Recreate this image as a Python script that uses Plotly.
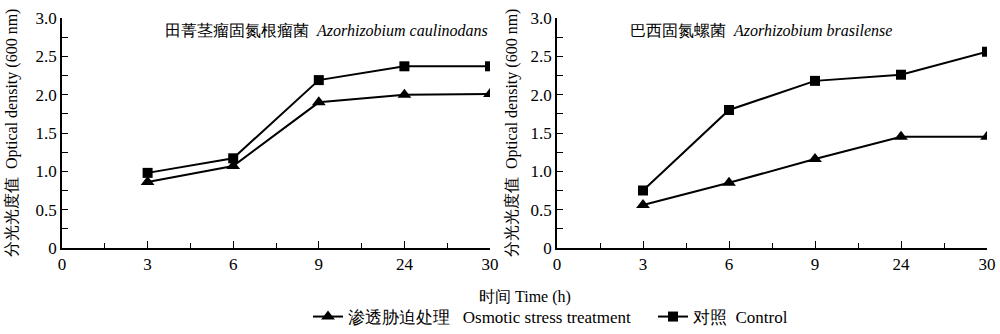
import plotly.graph_objects as go

# Sampling times (h), plotted at evenly spaced positions
time_labels = ["0", "3", "6", "9", "24", "30"]
sample_pos = [1, 2, 3, 4, 5]

# Optical density (600 nm) — Azorhizobium caulinodans
caul_stress = [0.86, 1.07, 1.90, 2.00, 2.01]
caul_control = [0.98, 1.17, 2.19, 2.37, 2.37]

# Optical density (600 nm) — Azorhizobium brasilense
bras_stress = [0.56, 0.85, 1.16, 1.45, 1.45]
bras_control = [0.75, 1.80, 2.18, 2.26, 2.56]

stress_name = "渗透胁迫处理\u2002 Osmotic stress treatment"
control_name = "对照\u2002Control"

FONT = "Times New Roman, Liberation Serif, serif"
W, H = 1000, 334

fig = go.Figure()

def add_pair(stress, control, xa, ya, show):
    fig.add_trace(go.Scatter(
        x=sample_pos, y=stress, xaxis=xa, yaxis=ya, mode="lines+markers",
        name=stress_name, showlegend=show, legendrank=1,
        line=dict(color="black", width=2),
        marker=dict(symbol="triangle-up", size=12, color="black")))
    fig.add_trace(go.Scatter(
        x=sample_pos, y=control, xaxis=xa, yaxis=ya, mode="lines+markers",
        name=control_name, showlegend=show, legendrank=2,
        line=dict(color="black", width=2),
        marker=dict(symbol="square", size=10, color="black")))

add_pair(caul_stress, caul_control, "x", "y", True)
add_pair(bras_stress, bras_control, "x2", "y2", False)

def px_x(p):
    return p / W

def px_y(p):
    return 1 - p / H

xaxis_common = dict(
    range=[0, 5], tickmode="array", tickvals=list(range(6)), ticktext=time_labels,
    ticks="inside", ticklen=7, tickwidth=1.2, tickcolor="black",
    minor=dict(tickmode="array", tickvals=[0.5, 1.5, 2.5, 3.5, 4.5],
               ticks="inside", ticklen=5, tickwidth=1.2, tickcolor="black"),
    showline=True, linecolor="black", linewidth=1.5, showgrid=False, zeroline=False,
    tickfont=dict(family=FONT, size=17, color="black"), fixedrange=True, automargin=False)

yaxis_common = dict(
    range=[0, 3], tickmode="array", tickvals=[0, 0.5, 1, 1.5, 2, 2.5, 3],
    ticktext=["0", "0.5", "1.0", "1.5", "2.0", "2.5", "3.0"],
    ticks="inside", ticklen=6, tickwidth=1.2, tickcolor="black",
    minor=dict(tickmode="array", tickvals=[0.25, 0.75, 1.25, 1.75, 2.25, 2.75],
               ticks="inside", ticklen=6, tickwidth=1.2, tickcolor="black"),
    showline=True, linecolor="black", linewidth=1.5, showgrid=False, zeroline=False,
    tickfont=dict(family=FONT, size=17, color="black"), fixedrange=True, automargin=False)

y_dom = [px_y(248), px_y(18)]

fig.update_layout(
    width=W, height=H, margin=dict(l=0, r=0, t=0, b=0, autoexpand=False),
    plot_bgcolor="white", paper_bgcolor="white",
    xaxis=dict(domain=[px_x(62), px_x(490)], anchor="y", **xaxis_common),
    yaxis=dict(domain=y_dom, anchor="x", **yaxis_common),
    xaxis2=dict(domain=[px_x(557), px_x(987)], anchor="y2", **xaxis_common),
    yaxis2=dict(domain=y_dom, anchor="x2", **yaxis_common),
    legend=dict(orientation="h", x=px_x(308), xanchor="left", y=px_y(317), yanchor="middle",
                font=dict(family=FONT, size=17, color="black"),
                entrywidth=300, entrywidthmode="pixels",
                tracegroupgap=0, bgcolor="rgba(0,0,0,0)"),
    font=dict(family=FONT, color="black"),
)

ytitle = "分光光度值\u2002Optical density (600 nm)"
annotations = [
    dict(text="田菁茎瘤固氮根瘤菌\u2002<i>Azorhizobium caulinodans</i>", x=px_x(490), y=px_y(30),
         xanchor="right", yanchor="middle", showarrow=False,
         font=dict(family=FONT, size=16, color="black")),
    dict(text="巴西固氮螺菌\u2002<i>Azorhizobium brasilense</i>", x=px_x(628), y=px_y(30),
         xanchor="left", yanchor="middle", showarrow=False,
         font=dict(family=FONT, size=16, color="black")),
    dict(text=ytitle, x=px_x(12), y=px_y(133), textangle=-90, xanchor="center",
         yanchor="middle", showarrow=False, font=dict(family=FONT, size=16, color="black")),
    dict(text=ytitle, x=px_x(512), y=px_y(133), textangle=-90, xanchor="center",
         yanchor="middle", showarrow=False, font=dict(family=FONT, size=16, color="black")),
    dict(text="时间 Time (h)", x=px_x(525), y=px_y(297), xanchor="center", yanchor="middle",
         showarrow=False, font=dict(family=FONT, size=16, color="black")),
]
for a in annotations:
    a.update(xref="paper", yref="paper")
fig.update_layout(annotations=annotations)

fig.write_html("out.html", config={"displayModeBar": False})
